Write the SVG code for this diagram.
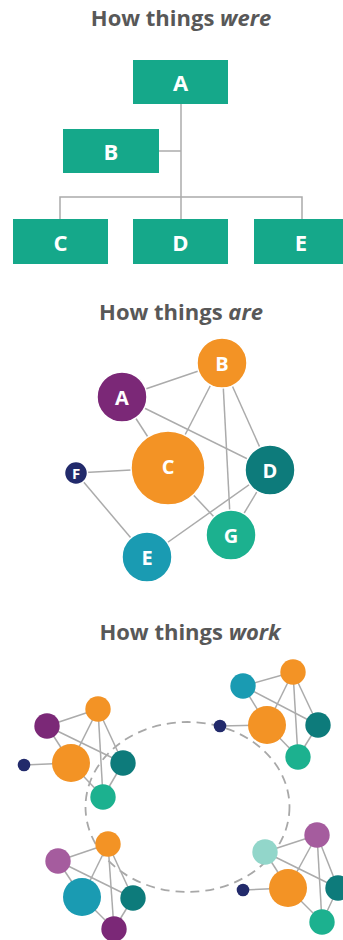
<svg xmlns="http://www.w3.org/2000/svg" width="343" height="940" viewBox="0 0 343 940">
  <style>
    .title { font-family: "Open Sans", "Liberation Sans", sans-serif; font-weight: 700; font-size: 22px; fill: #585858; text-anchor: middle; }
    .title tspan.em { font-style: italic; }
    .box { fill: #15a88a; }
    .lbl { font-family: "Open Sans", "Liberation Sans", sans-serif; font-weight: 700; fill: #ffffff; text-anchor: middle; dominant-baseline: central; }
    .lbl.big { font-size: 22px; }
    .lbl.mid { font-size: 20px; }
    .lbl.sm { font-size: 15px; }
    .wire { stroke: #ababab; stroke-width: 1.5; fill: none; }
    .ring { stroke: #a8a8a8; stroke-width: 1.8; fill: none; stroke-dasharray: 9 6; }
    .purple { fill: #7b2877; }
    .orange { fill: #f39325; }
    .teal { fill: #0d7b7b; }
    .green { fill: #1cb18f; }
    .cyan { fill: #1a9bb2; }
    .navy { fill: #222a6b; }
    .lilac { fill: #a55c9e; }
    .mint { fill: #92d6ca; }
    .outline { stroke: #ffffff; stroke-width: 1.5; }
  </style>

  <!-- Section 1: hierarchy -->
  <text class="title" x="181" y="26">How things <tspan class="em">were</tspan></text>

  <g id="tree-connectors">
    <path class="wire" d="M181 104 V219"/>
    <path class="wire" d="M159 151 H181"/>
    <path class="wire" d="M60 219 V197 H302 V219"/>
  </g>

  <g id="box-A"><rect class="box" x="133" y="60" width="95" height="44"/><text class="lbl big" x="180.5" y="82">A</text></g>
  <g id="box-B"><rect class="box" x="63" y="129" width="96" height="44"/><text class="lbl big" x="111" y="151">B</text></g>
  <g id="box-C"><rect class="box" x="13" y="219" width="95" height="45"/><text class="lbl big" x="60.5" y="241.5">C</text></g>
  <g id="box-D"><rect class="box" x="133" y="219" width="95" height="45"/><text class="lbl big" x="180.5" y="241.5">D</text></g>
  <g id="box-E"><rect class="box" x="254" y="219" width="95" height="45"/><text class="lbl big" x="301" y="241.5">E</text></g>

  <!-- Section 2: network -->
  <text class="title" x="181" y="320">How things <tspan class="em">are</tspan></text>

  <g id="net-connectors">
    <line class="wire" x1="122" y1="397" x2="222" y2="363"/>
    <line class="wire" x1="122" y1="397" x2="168" y2="468"/>
    <line class="wire" x1="122" y1="397" x2="270" y2="470"/>
    <line class="wire" x1="222" y1="363" x2="168" y2="468"/>
    <line class="wire" x1="222" y1="363" x2="231" y2="535"/>
    <line class="wire" x1="222" y1="363" x2="270" y2="470"/>
    <line class="wire" x1="76" y1="473" x2="168" y2="468"/>
    <line class="wire" x1="76" y1="473" x2="147" y2="557"/>
    <line class="wire" x1="168" y1="468" x2="231" y2="535"/>
    <line class="wire" x1="270" y1="470" x2="147" y2="557"/>
    <line class="wire" x1="270" y1="470" x2="231" y2="535"/>
  </g>

  <g id="node-A"><circle class="purple outline" cx="122" cy="397" r="25"/><text class="lbl mid" x="122" y="397">A</text></g>
  <g id="node-B"><circle class="orange outline" cx="222" cy="363" r="25"/><text class="lbl mid" x="222" y="363">B</text></g>
  <g id="node-C"><circle class="orange outline" cx="168" cy="468" r="37"/><text class="lbl mid" x="168" y="466">C</text></g>
  <g id="node-D"><circle class="teal outline" cx="270" cy="470" r="25"/><text class="lbl mid" x="270" y="470">D</text></g>
  <g id="node-E"><circle class="cyan outline" cx="147" cy="557" r="25"/><text class="lbl mid" x="147" y="557">E</text></g>
  <g id="node-F"><circle class="navy outline" cx="76" cy="473" r="11.5"/><text class="lbl sm" x="76" y="473">F</text></g>
  <g id="node-G"><circle class="green outline" cx="231" cy="535" r="25"/><text class="lbl mid" x="231" y="535">G</text></g>

  <!-- Section 3: linked clusters -->
  <text class="title" x="190" y="640">How things <tspan class="em">work</tspan></text>

  <g id="ring">
    <ellipse class="ring" cx="187.5" cy="807" rx="102" ry="85"/>
  </g>

  <!-- cluster top-left -->
  <g id="cluster-1-connectors">
    <line class="wire" x1="47" y1="726" x2="98" y2="709"/>
    <line class="wire" x1="47" y1="726" x2="71" y2="763"/>
    <line class="wire" x1="47" y1="726" x2="123" y2="763"/>
    <line class="wire" x1="98" y1="709" x2="71" y2="763"/>
    <line class="wire" x1="98" y1="709" x2="103" y2="797"/>
    <line class="wire" x1="98" y1="709" x2="123" y2="763"/>
    <line class="wire" x1="24" y1="765" x2="71" y2="763"/>
    <line class="wire" x1="71" y1="763" x2="103" y2="797"/>
    <line class="wire" x1="123" y1="763" x2="103" y2="797"/>
  </g>
  <g id="cluster-1">
    <circle class="purple" cx="47" cy="726" r="12.7"/>
    <circle class="orange" cx="98" cy="709" r="12.7"/>
    <circle class="orange" cx="71" cy="763" r="19"/>
    <circle class="navy" cx="24" cy="765" r="6.3"/>
    <circle class="teal" cx="123" cy="763" r="12.7"/>
    <circle class="green" cx="103" cy="797" r="12.7"/>
  </g>

  <!-- cluster top-right -->
  <g id="cluster-2-connectors">
    <line class="wire" x1="243" y1="686" x2="293" y2="672"/>
    <line class="wire" x1="243" y1="686" x2="267" y2="725"/>
    <line class="wire" x1="243" y1="686" x2="318" y2="725"/>
    <line class="wire" x1="293" y1="672" x2="267" y2="725"/>
    <line class="wire" x1="293" y1="672" x2="298" y2="757"/>
    <line class="wire" x1="293" y1="672" x2="318" y2="725"/>
    <line class="wire" x1="220" y1="726" x2="267" y2="725"/>
    <line class="wire" x1="267" y1="725" x2="298" y2="757"/>
    <line class="wire" x1="318" y1="725" x2="298" y2="757"/>
  </g>
  <g id="cluster-2">
    <circle class="cyan" cx="243" cy="686" r="12.7"/>
    <circle class="orange" cx="293" cy="672" r="12.7"/>
    <circle class="orange" cx="267" cy="725" r="19"/>
    <circle class="navy" cx="220" cy="726" r="6.3"/>
    <circle class="teal" cx="318" cy="725" r="12.7"/>
    <circle class="green" cx="298" cy="757" r="12.7"/>
  </g>

  <!-- cluster bottom-left -->
  <g id="cluster-3-connectors">
    <line class="wire" x1="58" y1="861" x2="108" y2="844"/>
    <line class="wire" x1="58" y1="861" x2="82" y2="897"/>
    <line class="wire" x1="58" y1="861" x2="133" y2="898"/>
    <line class="wire" x1="108" y1="844" x2="82" y2="897"/>
    <line class="wire" x1="108" y1="844" x2="114" y2="929"/>
    <line class="wire" x1="108" y1="844" x2="133" y2="898"/>
    <line class="wire" x1="82" y1="897" x2="114" y2="929"/>
    <line class="wire" x1="133" y1="898" x2="114" y2="929"/>
  </g>
  <g id="cluster-3">
    <circle class="lilac" cx="58" cy="861" r="12.7"/>
    <circle class="orange" cx="108" cy="844" r="12.7"/>
    <circle class="cyan" cx="82" cy="897" r="19"/>
    <circle class="teal" cx="133" cy="898" r="12.7"/>
    <circle class="purple" cx="114" cy="929" r="12.7"/>
  </g>

  <!-- cluster bottom-right -->
  <g id="cluster-4-connectors">
    <line class="wire" x1="265" y1="852" x2="317" y2="835"/>
    <line class="wire" x1="265" y1="852" x2="288" y2="888"/>
    <line class="wire" x1="265" y1="852" x2="338" y2="888"/>
    <line class="wire" x1="317" y1="835" x2="288" y2="888"/>
    <line class="wire" x1="317" y1="835" x2="322" y2="922"/>
    <line class="wire" x1="317" y1="835" x2="338" y2="888"/>
    <line class="wire" x1="243" y1="890" x2="288" y2="888"/>
    <line class="wire" x1="288" y1="888" x2="322" y2="922"/>
    <line class="wire" x1="338" y1="888" x2="322" y2="922"/>
  </g>
  <g id="cluster-4">
    <circle class="mint" cx="265" cy="852" r="12.7"/>
    <circle class="lilac" cx="317" cy="835" r="12.7"/>
    <circle class="orange" cx="288" cy="888" r="19"/>
    <circle class="navy" cx="243" cy="890" r="6.3"/>
    <circle class="teal" cx="338" cy="888" r="12.7"/>
    <circle class="green" cx="322" cy="922" r="12.7"/>
  </g>
</svg>
